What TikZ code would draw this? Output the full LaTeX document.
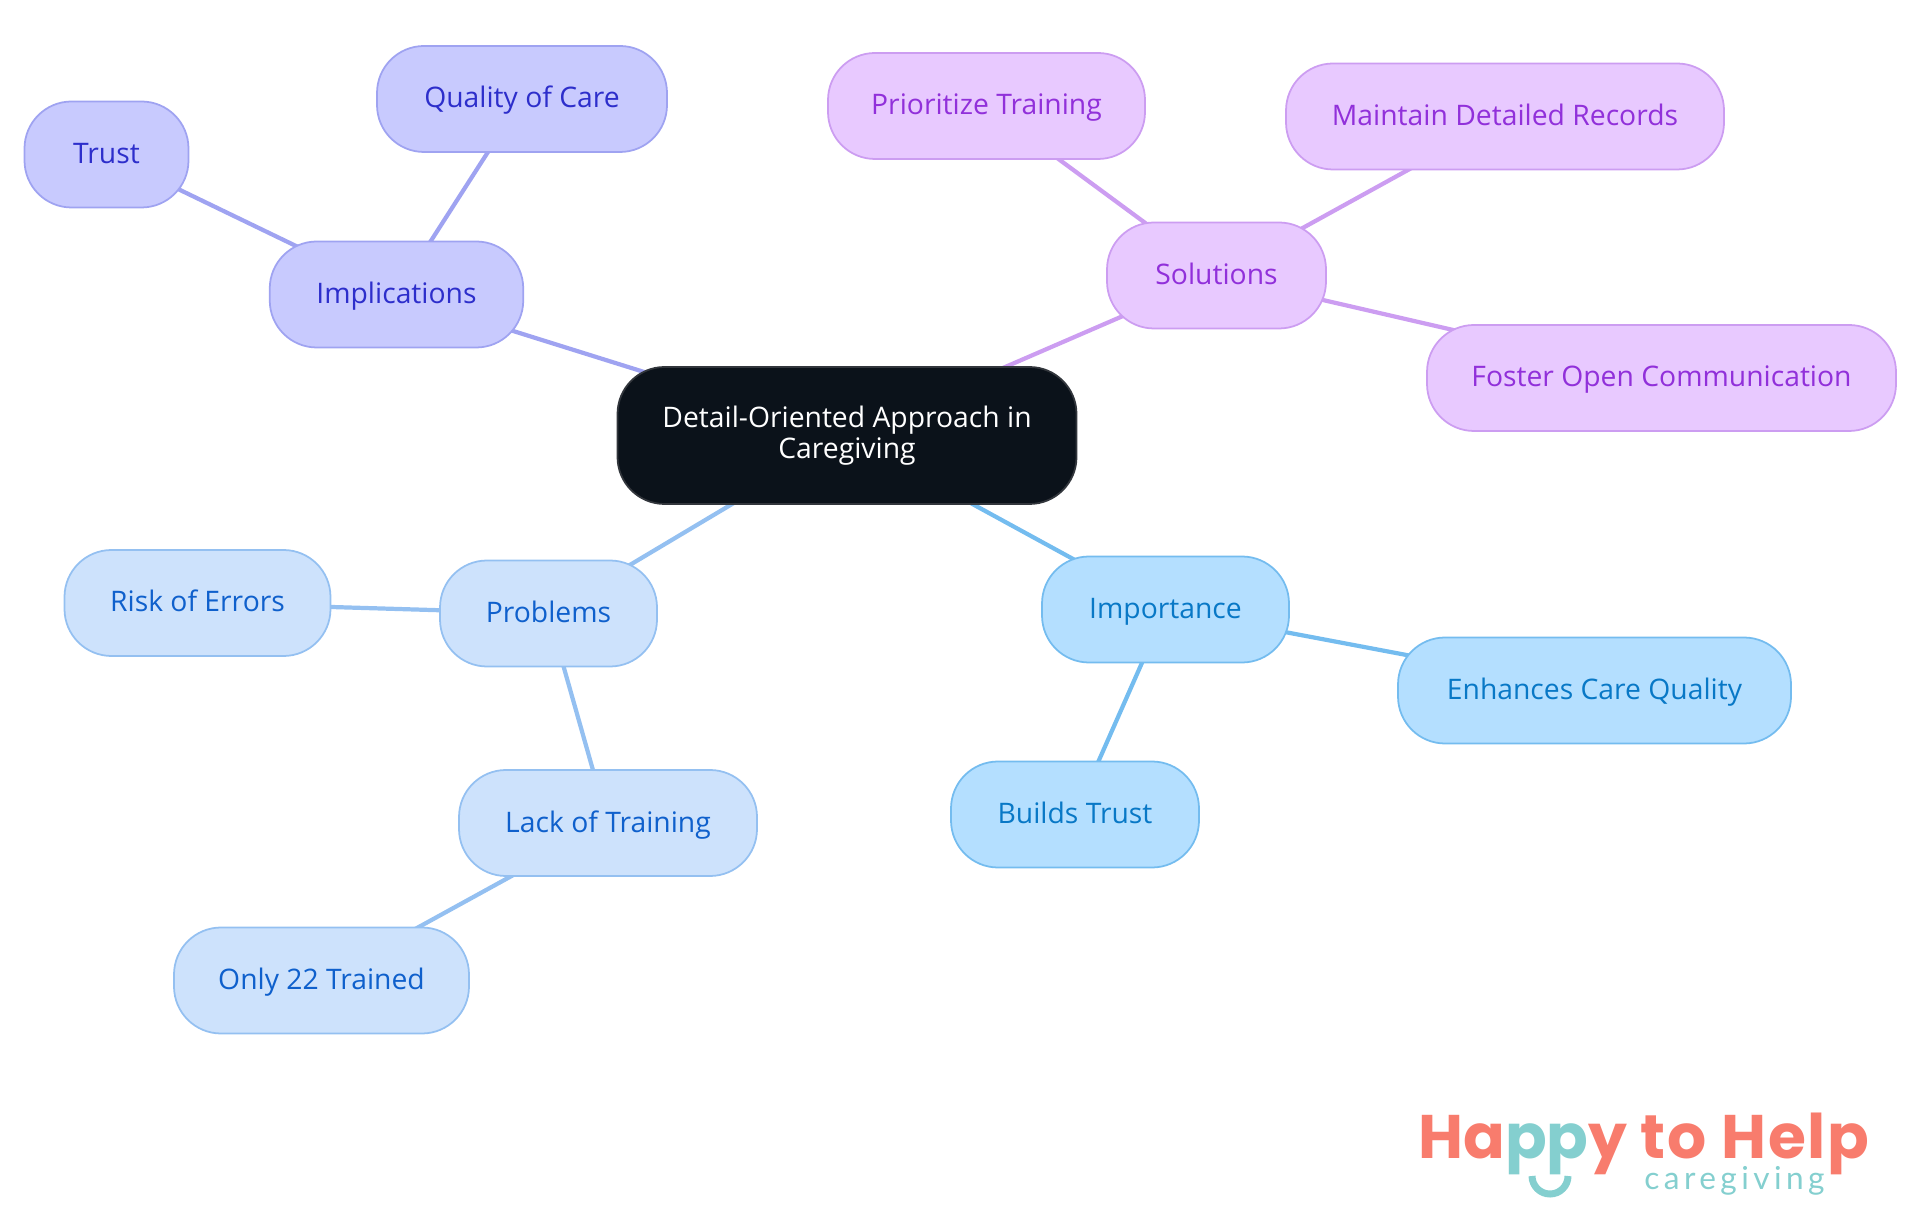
\documentclass[tikz,border=0pt]{standalone}
\usepackage{fontspec}
\usepackage{xcolor}
\setmainfont{Open Sans}
\newfontfamily\logofont{Poppins}
\newfontfamily\logowide[LetterSpace=3]{Poppins}
\newfontfamily\logolight[LetterSpace=14]{Lato}
\usetikzlibrary{backgrounds}

\definecolor{rootfill}{HTML}{0B121A}
\definecolor{rootline}{HTML}{32363C}
\definecolor{implfill}{HTML}{C8CAFE}
\definecolor{implline}{HTML}{9FA3F1}
\definecolor{impltext}{HTML}{2D2ECB}
\definecolor{solfill}{HTML}{E8C9FF}
\definecolor{solline}{HTML}{CC9DF1}
\definecolor{soltext}{HTML}{9130DA}
\definecolor{probfill}{HTML}{CDE2FC}
\definecolor{probline}{HTML}{94C0F1}
\definecolor{probtext}{HTML}{0F60CC}
\definecolor{impofill}{HTML}{B4DFFF}
\definecolor{impoline}{HTML}{74BCEF}
\definecolor{impotext}{HTML}{0878C6}
\definecolor{logored}{HTML}{F87C6D}
\definecolor{logoteal}{HTML}{84CFCF}

\tikzset{
    mapnode/.style={rounded corners=0.94cm, line width=1pt, minimum height=2.12cm,
        inner sep=0pt, font=\fontsize{16.1}{18}\selectfont, align=center},
    leafnode/.style={mapnode, text height=0.5cm, text depth=0.14cm},
    rootnode/.style={mapnode, fill=rootfill, draw=rootline, text=white, minimum height=2.74cm},
    implnode/.style={leafnode, fill=implfill, draw=implline, text=impltext},
    solnode/.style={leafnode, fill=solfill, draw=solline, text=soltext},
    probnode/.style={leafnode, fill=probfill, draw=probline, text=probtext},
    imponode/.style={leafnode, fill=impofill, draw=impoline, text=impotext},
    mapline/.style={line width=2.4pt}
}

\begin{document}
\begin{tikzpicture}
    \useasboundingbox (0,0) rectangle (38.4,24.3);

    \node[rootnode, minimum width=9.18cm] (root) at (16.94,15.59) {Detail-Oriented Approach in\\Caregiving};

    \node[implnode, minimum width=5.07cm] (implications) at (7.93,18.41) {Implications};
    \node[implnode, minimum width=5.8cm] (quality) at (10.44,22.32) {Quality of Care};
    \node[implnode, minimum width=3.28cm] (trust) at (2.13,21.21) {Trust};

    \node[solnode, minimum width=4.38cm] (solutions) at (24.33,18.79) {Solutions};
    \node[solnode, minimum width=6.34cm] (prioritize) at (19.73,22.18) {Prioritize Training};
    \node[solnode, minimum width=8.76cm] (records) at (30.10,21.97) {Maintain Detailed Records};
    \node[solnode, minimum width=9.38cm] (foster) at (33.23,16.74) {Foster Open Communication};

    \node[probnode, minimum width=4.34cm] (problems) at (10.97,12.03) {Problems};
    \node[probnode, minimum width=5.32cm] (errors) at (3.95,12.24) {Risk of Errors};
    \node[probnode, minimum width=5.96cm] (training) at (12.16,7.84) {Lack of Training};
    \node[probnode, minimum width=5.9cm] (only) at (6.43,4.69) {Only 22 Trained};

    \node[imponode, minimum width=4.94cm] (importance) at (23.31,12.11) {Importance};
    \node[imponode, minimum width=7.86cm] (enhances) at (31.89,10.49) {Enhances Care Quality};
    \node[imponode, minimum width=4.96cm] (builds) at (21.50,8.01) {Builds Trust};

    % lines go behind the boxes
    \begin{scope}[on background layer]
        \draw[mapline, implline] (root.center) -- (implications.center);
        \draw[mapline, implline] (implications.center) -- (quality.center);
        \draw[mapline, implline] (implications.center) -- (trust.center);
        \draw[mapline, solline] (root.center) -- (solutions.center);
        \draw[mapline, solline] (solutions.center) -- (prioritize.center);
        \draw[mapline, solline] (solutions.center) -- (records.center);
        \draw[mapline, solline] (solutions.center) -- (foster.center);
        \draw[mapline, probline] (root.center) -- (problems.center);
        \draw[mapline, probline] (problems.center) -- (errors.center);
        \draw[mapline, probline] (problems.center) -- (training.center);
        \draw[mapline, probline] (training.center) -- (only.center);
        \draw[mapline, impoline] (root.center) -- (importance.center);
        \draw[mapline, impoline] (importance.center) -- (enhances.center);
        \draw[mapline, impoline] (importance.center) -- (builds.center);
    \end{scope}

    % logo
    \node[anchor=base west, inner sep=0pt, font=\logofont\bfseries\fontsize{35}{40}\selectfont, text=logored]
        (logo) at (28.36,1.14) {Ha\textcolor{logoteal}{pp}y {\logowide\bfseries to Help}};
    \node[anchor=base west, inner sep=0pt, font=\logolight\fontsize{18}{20}\selectfont, text=logoteal]
        (care) at (32.88,0.52) {caregiving};
    \draw[logoteal, line width=0.14cm] (30.64,0.78) arc (180:360:0.36);
\end{tikzpicture}
\end{document}
